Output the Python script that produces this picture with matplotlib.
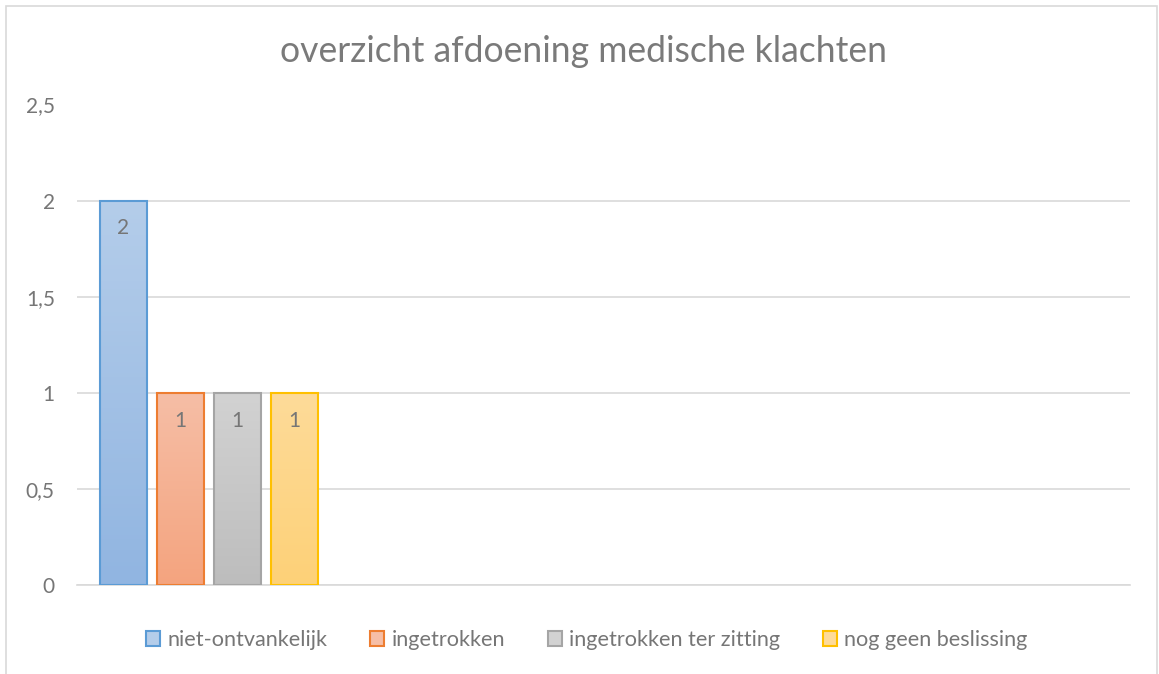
import matplotlib.pyplot as plt
import numpy as np
from matplotlib.patches import Patch, Rectangle
from matplotlib.colors import LinearSegmentedColormap

# data
categorieen = ['', '', '', '']
reeksen = ['niet-ontvankelijk', 'ingetrokken', 'ingetrokken ter zitting', 'nog geen beslissing']
waarden = {
    'niet-ontvankelijk': [2, np.nan, np.nan, np.nan],
    'ingetrokken': [1, np.nan, np.nan, np.nan],
    'ingetrokken ter zitting': [1, np.nan, np.nan, np.nan],
    'nog geen beslissing': [1, np.nan, np.nan, np.nan],
}

# stijl (Excel-achtig)
randkleur = ['#5b9bd5', '#ed7d31', '#a5a5a5', '#ffc000']
boven = ['#b4cdea', '#f6bea6', '#d2d2d2', '#fedb99']
onder = ['#91b5e1', '#f4a47f', '#bdbdbd', '#fdd178']
tekst = '#767676'
grid = '#d9d9d9'

plt.rcParams['font.family'] = ['Lato', 'DejaVu Sans']

fig = plt.figure(figsize=(11.59, 6.74), dpi=100)
ax = fig.add_axes([77 / 1159, 89 / 674, 1053 / 1159, 480.5 / 674])

# kaderlijn rond de grafiek
fig.patches.append(Rectangle((6 / 1159, -0.1), 1151 / 1159, 1.1 - 6 / 674,
                             transform=fig.transFigure, fill=False,
                             edgecolor=grid, linewidth=1.2))

x = np.arange(len(categorieen))
breedte = 47 / 263
stap = 57 / 263

for i, naam in enumerate(reeksen):
    pos = x + (i - 1.5) * stap
    bars = ax.bar(pos, waarden[naam], width=breedte, facecolor='none',
                  edgecolor=randkleur[i], linewidth=1.5, zorder=3)
    cmap = LinearSegmentedColormap.from_list('g%d' % i, [onder[i], boven[i]])
    for b, v in zip(bars, waarden[naam]):
        if np.isnan(v):
            continue
        x0 = b.get_x()
        im = ax.imshow(np.linspace(0, 1, 100).reshape(-1, 1), cmap=cmap,
                       extent=(x0, x0 + breedte, 0, v), origin='lower',
                       aspect='auto', zorder=2)
        im.set_clip_path(b)
        ax.text(x0 + breedte / 2, v - 0.145, f'{v:g}', ha='center', va='center',
                fontsize=15, color=tekst, zorder=4)

ax.set_xlim(-0.5, len(categorieen) - 0.5)
ax.set_ylim(0, 2.5)

ax.set_yticks([0, 0.5, 1, 1.5, 2, 2.5])
ax.set_yticklabels(['0', '0,5', '1', '1,5', '2', '2,5'])
ax.set_xticks([])
ax.tick_params(axis='y', length=0, pad=16, labelsize=15, labelcolor=tekst)
ax.grid(axis='y', color=grid, linewidth=1.2, zorder=0)
ax.set_axisbelow(True)
for s in ['top', 'right', 'left']:
    ax.spines[s].set_visible(False)
ax.spines['bottom'].set_color(grid)
ax.spines['bottom'].set_linewidth(1.2)

fig.text(583 / 1159, 1 - 51 / 674, 'overzicht afdoening medische klachten',
         ha='center', va='center', fontsize=25.6, color='#7a7a7a')

handles = [Patch(facecolor=boven[i], edgecolor=randkleur[i], linewidth=1.5)
           for i in range(len(reeksen))]
fig.legend(handles, reeksen, loc='center', bbox_to_anchor=(587 / 1159, 1 - 640 / 674),
           ncol=4, frameon=False, fontsize=15.6, labelcolor=tekst,
           handlelength=0.65, handleheight=0.65, handletextpad=0.35,
           columnspacing=1.95)

fig.savefig('out.png', dpi=100)
